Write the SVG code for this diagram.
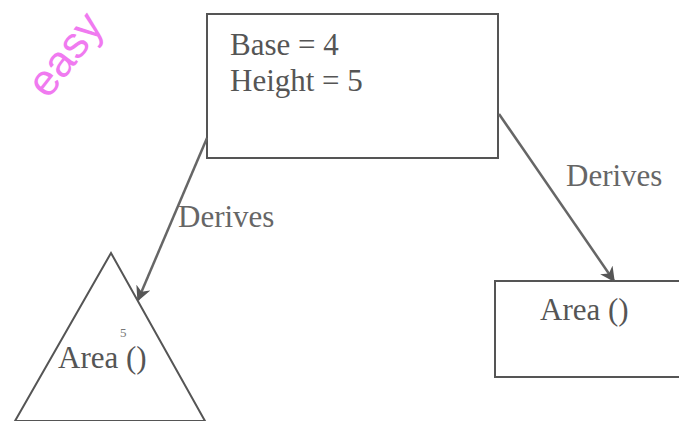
<svg xmlns="http://www.w3.org/2000/svg" width="679" height="421" viewBox="0 0 679 421">
<style>
.shape{fill:none;stroke:#555;stroke-width:2}
.conn{fill:none;stroke:#666;stroke-width:2.5}
.t{font-family:"Liberation Serif",serif;font-size:31px;fill:#555}
.lbl{font-family:"Liberation Serif",serif;font-size:31px;fill:#666}
</style>
<defs>
<marker id="ah" viewBox="0 0 10 10" refX="9" refY="5" markerWidth="6" markerHeight="6" orient="auto" markerUnits="strokeWidth">
<path d="M0,0 L10,5 L0,10 L3,5 Z" fill="#555"/>
</marker>
</defs>
<rect width="679" height="421" fill="#fff"/>
<text x="48" y="100" transform="rotate(-52 48 100)" font-family="Liberation Sans,sans-serif" font-size="44" fill="#f07af0">easy</text>
<g id="base">
<rect class="shape" x="207" y="14" width="291" height="144"/>
<text class="t" x="230" y="55">Base = 4</text>
<text class="t" x="230" y="91">Height = 5</text>
</g>
<g id="triangle">
<polygon class="shape" points="111,253 15,421 205,421"/>
<text class="t" x="58" y="368">Area ()</text>
<text x="120" y="337" font-family="Liberation Serif,serif" font-size="13" fill="#777">5</text>
</g>
<g id="rect">
<rect class="shape" x="495" y="281" width="185" height="96"/>
<text class="t" x="540" y="320">Area ()</text>
</g>
<g id="connectors">
<line class="conn" x1="207" y1="138" x2="138" y2="300" marker-end="url(#ah)"/>
<line class="conn" x1="499" y1="114" x2="614" y2="281" marker-end="url(#ah)"/>
<text class="lbl" x="178" y="227">Derives</text>
<text class="lbl" x="566" y="186">Derives</text>
</g>
</svg>
